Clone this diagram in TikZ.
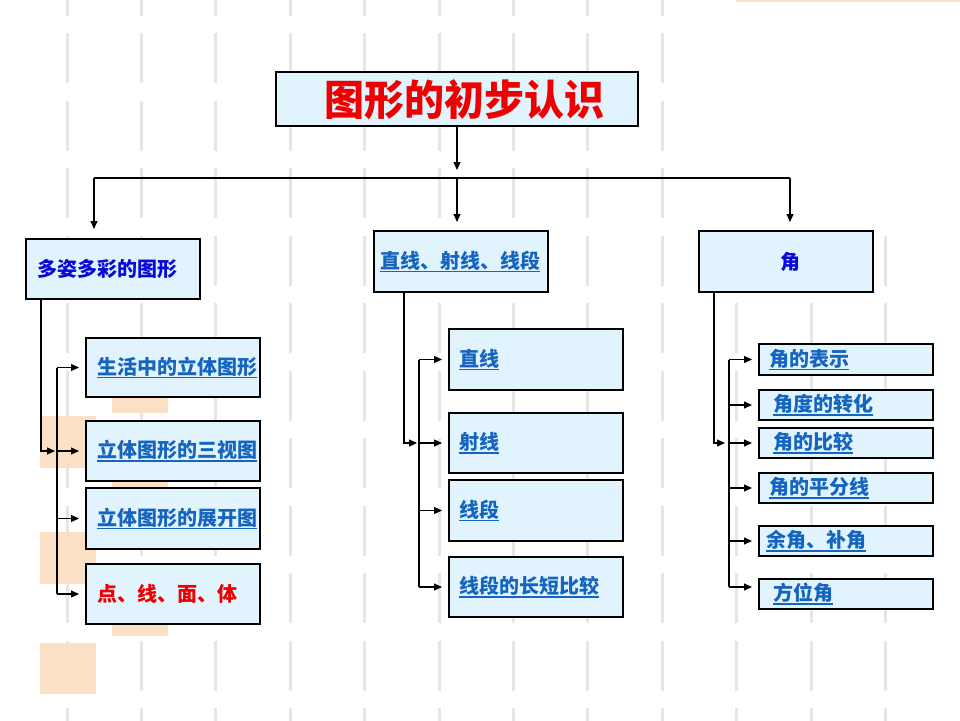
\documentclass[tikz,border=0pt]{standalone}
\usepackage{fontspec}
\setmainfont{Noto Sans CJK SC}
\usetikzlibrary{arrows.meta,calc}
\definecolor{boxfill}{HTML}{E1F3FD}
\definecolor{linkblue}{HTML}{1565C0}
\definecolor{deepblue}{HTML}{0A0AD8}
\definecolor{titlered}{HTML}{EE0000}
\definecolor{gridgray}{HTML}{E6E6E6}
\definecolor{peach}{HTML}{FCE0C6}
\newsavebox\ulbox
\newcommand{\myul}[1]{\sbox\ulbox{#1}\rlap{\raisebox{-4pt}{\rule{\wd\ulbox}{1.3pt}}}\usebox\ulbox}
\begin{document}
\begin{tikzpicture}[x=1pt,y=-1pt,
  box/.style={draw=black, line width=1.4pt, fill=boxfill, inner sep=0pt, outer sep=0pt, anchor=north west},
  lbl/.style={inner sep=0pt, anchor=west, font=\fontsize{20}{24}\selectfont\bfseries},
  link/.style={lbl, text=linkblue},
  conn/.style={line width=1.1pt, black},
  arr/.style={conn, -{Triangle[length=8pt,width=7pt]}},
  gridline/.style={gridgray, line width=3pt, dash pattern=on 50pt off 17.5pt},
]
\useasboundingbox (0,0) rectangle (960,720);
\fill[white] (0,0) rectangle (960,720);
% background pattern
\foreach \k in {0,...,8} \draw[gridline] ({67+74.4*\k},-34.5) -- ({67+74.4*\k},730);
\foreach \k in {9,10,11} \draw[gridline] ({67+74.4*\k},235.5) -- ({67+74.4*\k},730);
\fill[peach] (40,416) rectangle (96,468);
\fill[peach] (40,532) rectangle (96,584);
\fill[peach] (40,643) rectangle (96,694);
\fill[peach] (112,360) rectangle (168,413);
\fill[peach] (112,474) rectangle (168,528);
\fill[peach] (112,584) rectangle (168,636);
\fill[peach] (736,0) rectangle (960,1.5);

% boxes
\node[box, minimum width=362pt, minimum height=54pt] (title) at (276,72) {};
\node[box, minimum width=174pt, minimum height=60pt] (pL) at (26,239) {};
\node[box, minimum width=174pt, minimum height=61pt] (pM) at (374,231) {};
\node[box, minimum width=174pt, minimum height=61pt] (pR) at (699,231) {};

\node[box, minimum width=174pt, minimum height=59pt] (L1) at (86,338) {};
\node[box, minimum width=174pt, minimum height=60pt] (L2) at (86,421) {};
\node[box, minimum width=174pt, minimum height=61pt] (L3) at (86,488) {};
\node[box, minimum width=174pt, minimum height=60pt] (L4) at (86,564) {};

\node[box, minimum width=174pt, minimum height=61pt] (M1) at (449,329) {};
\node[box, minimum width=174pt, minimum height=60pt] (M2) at (449,413) {};
\node[box, minimum width=174pt, minimum height=61pt] (M3) at (449,480) {};
\node[box, minimum width=174pt, minimum height=60pt] (M4) at (449,557) {};

\node[box, minimum width=174pt, minimum height=31pt] (R1) at (759,344) {};
\node[box, minimum width=174pt, minimum height=30pt] (R2) at (759,390) {};
\node[box, minimum width=174pt, minimum height=30pt] (R3) at (759,428) {};
\node[box, minimum width=174pt, minimum height=30pt] (R4) at (759,473) {};
\node[box, minimum width=174pt, minimum height=30pt] (R5) at (759,526) {};
\node[box, minimum width=174pt, minimum height=30pt] (R6) at (759,579) {};

% texts
\node[lbl, anchor=center, text=titlered, font=\fontsize{40}{44}\selectfont\bfseries] (titletxt) at ([xshift=7pt,yshift=-1pt]title.center) {\resizebox{280pt}{36pt}{图形的初步认识}};
\node[lbl, text=deepblue] (pLt) at ([xshift=11pt]pL.west) {多姿多彩的图形};
\node[link] (pMt) at ([xshift=6pt]pM.west) {\myul{直线、射线、线段}};
\node[lbl, anchor=center, text=deepblue] (pRt) at ([xshift=4pt]pR.center) {角};

\node[link] (L1t) at ([xshift=11pt]L1.west) {\myul{生活中的立体图形}};
\node[link] (L2t) at ([xshift=11pt]L2.west) {\myul{立体图形的三视图}};
\node[link] (L3t) at ([xshift=11pt]L3.west) {\myul{立体图形的展开图}};
\node[lbl, text=titlered] (L4t) at ([xshift=11pt]L4.west) {点、线、面、体};

\node[link] (M1t) at ([xshift=10pt]M1.west) {\myul{直线}};
\node[link] (M2t) at ([xshift=10pt]M2.west) {\myul{射线}};
\node[link] (M3t) at ([xshift=10pt]M3.west) {\myul{线段}};
\node[link] (M4t) at ([xshift=10pt]M4.west) {\myul{线段的长短比较}};

\node[link] (R1t) at ([xshift=10pt]R1.west) {\myul{角的表示}};
\node[link] (R2t) at ([xshift=14pt]R2.west) {\myul{角度的转化}};
\node[link] (R3t) at ([xshift=14pt]R3.west) {\myul{角的比较}};
\node[link] (R4t) at ([xshift=10pt]R4.west) {\myul{角的平分线}};
\node[link] (R5t) at ([xshift=7pt]R5.west) {\myul{余角、补角}};
\node[link] (R6t) at ([xshift=14pt]R6.west) {\myul{方位角}};

% top connectors
\coordinate (tA) at (457,170);
\coordinate (hL) at (94,178);
\coordinate (hM) at (457,178);
\coordinate (hR) at (790,178);
\draw[arr] (title.south -| tA) -- (tA);
\draw[conn] (hL) -- (hR);
\draw[arr, shorten >=10pt] (hL) -- (hL |- pL.north);
\draw[arr, shorten >=9pt] (hM) -- (hM |- pM.north);
\draw[arr, shorten >=9pt] (hR) -- (hR |- pR.north);

% left column
\draw[arr] ([xshift=15pt]pL.south west) |- ([xshift=-31pt]L2.west);
\draw[conn] ([xshift=-29pt]L1.west) -- ([xshift=-29pt]L4.west);
\foreach \n in {L1,L2,L3,L4}
  \draw[arr, shorten >=7pt] ([xshift=-29pt]\n.west) -- (\n.west);

% middle column
\draw[arr] ([xshift=30pt]pM.south west) |- ([xshift=-32pt]M2.west);
\draw[conn] ([xshift=-30pt]M1.west) -- ([xshift=-30pt]M4.west);
\foreach \n in {M1,M2,M3,M4}
  \draw[arr, shorten >=7pt] ([xshift=-30pt]\n.west) -- (\n.west);

% right column
\draw[arr] ([xshift=15pt]pR.south west) |- ([xshift=-34pt]R3.west);
\draw[conn] ([xshift=-30pt]R1.west) -- ([xshift=-30pt,yshift=7pt]R6.west);
\foreach \n in {R1,R2,R3,R4,R5}
  \draw[arr, shorten >=7pt] ([xshift=-30pt]\n.west) -- (\n.west);
\draw[arr, shorten >=7pt] ([xshift=-30pt,yshift=7pt]R6.west) -- ([yshift=7pt]R6.west);
\end{tikzpicture}
\end{document}
